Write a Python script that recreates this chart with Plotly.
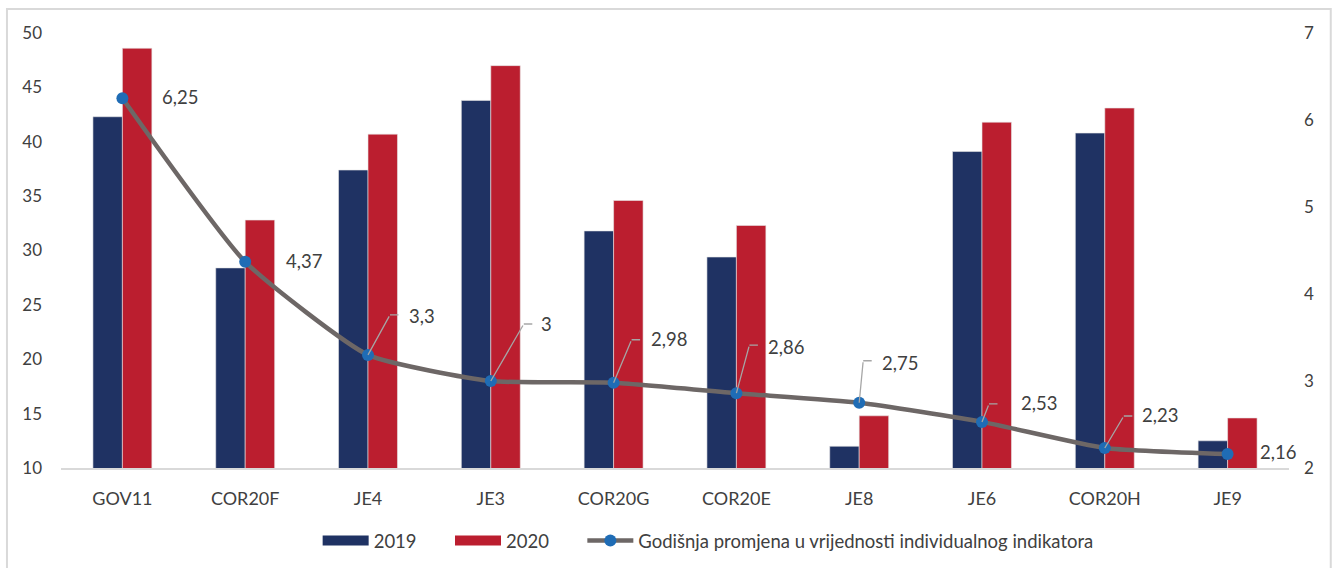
import plotly.graph_objects as go

# data
categories = ['GOV11', 'COR20F', 'JE4', 'JE3', 'COR20G', 'COR20E', 'JE8', 'JE6', 'COR20H', 'JE9']
values_2019 = [42.3, 28.4, 37.4, 43.8, 31.8, 29.4, 12.0, 39.1, 40.8, 12.5]
values_2020 = [48.6, 32.8, 40.7, 47.0, 34.6, 32.3, 14.8, 41.8, 43.1, 14.6]
annual_change = [6.25, 4.37, 3.3, 3.0, 2.98, 2.86, 2.75, 2.53, 2.23, 2.16]
change_labels = ['6,25', '4,37', '3,3', '3', '2,98', '2,86', '2,75', '2,53', '2,23', '2,16']
line_name = 'Godišnja promjena u vrijednosti individualnog indikatora'

NAVY = '#1f3263'
RED = '#bb1e2f'
GREY_LINE = '#6d6766'
BLUE = '#1f6cb5'
TEXT = '#404040'
LEADER = '#a6a6a6'
FONT = 'Lato, "Open Sans", sans-serif'
NB = '\u00a0'

# label placement (pixel offsets from the point): text left edge, text centre y,
# leader elbow (None = no leader)
label_pos = [
    (38, -1, None), (39, -1, None), (39, -39, (22, -40)), (48, -57, (33, -57)),
    (35, -44, (18, -43)), (30, -46, (13, -48)), (21, -40, (4, -42)),
    (37, -19, (7, -18)), (35, -33, (19, -32)), (30, -2, None),
]

fig = go.Figure()

fig.add_trace(go.Bar(
    x=categories, y=values_2019, name='2019',
    marker=dict(color=NAVY, line=dict(color='#e6e6e6', width=0.6)),
    showlegend=False,
))
fig.add_trace(go.Bar(
    x=categories, y=values_2020, name='2020',
    marker=dict(color=RED, line=dict(color='#e6e6e6', width=0.6)),
    showlegend=False,
))
fig.add_trace(go.Scatter(
    x=categories, y=annual_change, name=line_name, yaxis='y2',
    mode='lines+markers',
    line=dict(color=GREY_LINE, width=4.5, shape='spline', smoothing=0.5),
    marker=dict(color=BLUE, size=12),
    showlegend=False,
))

# legend-only entries (wide swatches like the original)
fig.add_trace(go.Scatter(x=[None], y=[None], mode='lines', name='2019' + NB * 6,
                         line=dict(color=NAVY, width=10)))
fig.add_trace(go.Scatter(x=[None], y=[None], mode='lines', name='2020' + NB * 6,
                         line=dict(color=RED, width=10)))
fig.add_trace(go.Scatter(x=[None], y=[None], mode='lines+markers', name=line_name,
                         line=dict(color=GREY_LINE, width=4.5),
                         marker=dict(color=BLUE, size=12)))

annotations = []
for cat, val, lab, (dx, dy, elbow) in zip(categories, annual_change, change_labels, label_pos):
    annotations.append(dict(
        x=cat, y=val, xref='x', yref='y2', text=lab, showarrow=False,
        xanchor='left', yanchor='middle', xshift=dx, yshift=-dy,
        font=dict(family=FONT, size=18.5, color=TEXT),
    ))
    if elbow is not None:
        ex, ey = elbow
        # slanted part: from the point up to the elbow
        annotations.append(dict(
            x=cat, y=val, xref='x', yref='y2', text='', showarrow=True,
            ax=ex, ay=ey, arrowhead=0, arrowwidth=1.3, arrowcolor=LEADER,
            standoff=0, startstandoff=0,
        ))
        # horizontal part: from the elbow towards the label
        annotations.append(dict(
            x=cat, y=val, xref='x', yref='y2', text='', showarrow=True,
            xshift=ex, yshift=-ey, ax=10, ay=0,
            arrowhead=0, arrowwidth=1.3, arrowcolor=LEADER,
            standoff=0, startstandoff=0,
        ))

fig.update_layout(
    width=1333, height=568,
    margin=dict(l=61, r=44, t=33, b=100, autoexpand=False),
    paper_bgcolor='white', plot_bgcolor='white',
    font=dict(family=FONT, size=17, color=TEXT),
    barmode='group', bargap=0.52, bargroupgap=0,
    xaxis=dict(range=[-0.5, 9.5], showline=True, linecolor='#d9d9d9', linewidth=1.5,
               showgrid=False, ticks='', ticklabelstandoff=14, automargin=False,
               tickfont=dict(size=18, color=TEXT)),
    yaxis=dict(range=[10, 50], dtick=5, showgrid=False, zeroline=False,
               showline=False, ticklabelstandoff=18, automargin=False,
               tickfont=dict(size=17, color=TEXT)),
    yaxis2=dict(range=[2, 7], dtick=1, overlaying='y', side='right',
                showgrid=False, zeroline=False, showline=False, automargin=False,
                ticklabelstandoff=14, tickfont=dict(size=17, color=TEXT)),
    legend=dict(orientation='h', x=0.527, xanchor='center', y=-0.168, yanchor='middle',
                font=dict(size=18.5, color=TEXT), itemwidth=46,
                bgcolor='rgba(0,0,0,0)'),
    annotations=annotations,
    shapes=[dict(type='rect', xref='paper', yref='paper',
                 x0=-0.044, x1=1.034, y0=-0.3, y1=1.055,
                 line=dict(color='#d9d9d9', width=2), layer='below')],
)

fig.write_html('out.html', config={'displayModeBar': False},
               post_script="document.body.style.margin='0';")
